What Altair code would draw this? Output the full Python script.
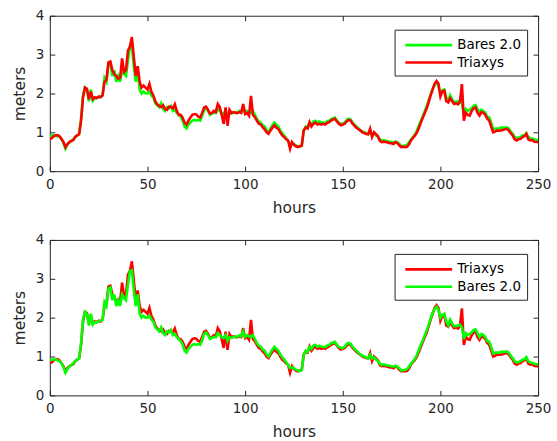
import altair as alt
import pandas as pd

hours = list(range(251))

triaxys = [
    0.83, 0.85, 0.90, 0.92, 0.93, 0.90, 0.83, 0.75, 0.62, 0.70,
    0.75, 0.78, 0.80, 0.88, 0.92, 0.95, 1.30, 1.90, 2.15, 2.12,
    1.85, 2.05, 1.85, 1.90, 1.88, 1.92, 1.90, 1.95, 2.30, 2.35,
    2.80, 2.82, 2.60, 2.50, 2.45, 2.38, 2.40, 2.90, 2.55, 2.60,
    3.10, 3.20, 3.45, 2.95, 2.45, 2.70, 2.30, 2.15, 2.20, 2.15,
    2.10, 2.25, 2.05, 1.95, 1.80, 1.72, 1.68, 1.65, 1.70, 1.60,
    1.58, 1.66, 1.65, 1.62, 1.72, 1.55, 1.45, 1.45, 1.38, 1.25,
    1.20, 1.30, 1.38, 1.45, 1.47, 1.46, 1.40, 1.38, 1.50, 1.64,
    1.66, 1.58, 1.48, 1.50, 1.55, 1.52, 1.73, 1.65, 1.45, 1.22,
    1.64, 1.17, 1.58, 1.50, 1.52, 1.50, 1.50, 1.52, 1.50, 1.73,
    1.47, 1.50, 1.43, 1.94, 1.45, 1.39, 1.30, 1.22, 1.20, 1.13,
    1.08, 1.00, 0.96, 1.05, 1.12, 1.18, 1.12, 1.09, 1.00, 0.92,
    0.88, 0.82, 0.79, 0.58, 0.75, 0.68, 0.64, 0.62, 0.64, 0.66,
    1.05, 1.12, 1.10, 1.26, 1.15, 1.22, 1.25, 1.20, 1.22, 1.20,
    1.22, 1.20, 1.24, 1.26, 1.30, 1.33, 1.35, 1.28, 1.22, 1.18,
    1.20, 1.22, 1.28, 1.32, 1.30, 1.22, 1.17, 1.12, 1.08, 1.05,
    1.00, 0.98, 0.96, 0.95, 1.09, 0.88, 1.00, 0.95, 0.90, 0.78,
    0.75, 0.76, 0.75, 0.74, 0.72, 0.72, 0.70, 0.75, 0.72, 0.66,
    0.62, 0.63, 0.62, 0.63, 0.70, 0.80, 0.86, 0.92, 1.00, 1.12,
    1.25, 1.38, 1.50, 1.62, 1.78, 1.95, 2.10, 2.25, 2.32, 2.25,
    1.92, 2.05, 2.07, 1.80, 1.77, 1.88, 1.80, 1.73, 1.75, 1.72,
    1.78, 2.24, 1.30, 1.50, 1.45, 1.43, 1.55, 1.62, 1.64, 1.50,
    1.43, 1.52, 1.50, 1.45, 1.35, 1.30, 1.15, 1.00, 1.02, 1.05,
    1.04, 1.05, 1.06, 1.08, 1.09, 1.05, 0.98, 0.92, 0.82, 0.79,
    0.82, 0.83, 0.88, 0.90, 0.96, 0.82, 0.79, 0.80, 0.76, 0.75,
    0.75,
]

bares = [
    0.90, 0.92, 0.93, 0.92, 0.90, 0.88, 0.82, 0.72, 0.58, 0.68,
    0.74, 0.78, 0.82, 0.88, 0.92, 0.95, 1.35, 1.95, 2.15, 2.10,
    1.80, 2.10, 1.82, 1.88, 1.88, 1.90, 1.92, 1.95, 2.40, 2.30,
    2.75, 2.78, 2.45, 2.60, 2.30, 2.45, 2.30, 2.60, 2.50, 2.45,
    2.85, 3.20, 3.22, 2.70, 2.30, 2.60, 2.10, 2.00, 2.05, 2.00,
    2.00, 2.05, 1.95, 1.90, 1.75, 1.70, 1.65, 1.75, 1.60, 1.55,
    1.65, 1.62, 1.68, 1.55, 1.58, 1.50, 1.45, 1.40, 1.30, 1.15,
    1.10, 1.20, 1.25, 1.30, 1.32, 1.30, 1.32, 1.30, 1.42, 1.58,
    1.62, 1.55, 1.45, 1.48, 1.50, 1.50, 1.60, 1.55, 1.50, 1.48,
    1.55, 1.40, 1.50, 1.48, 1.50, 1.52, 1.50, 1.55, 1.52, 1.65,
    1.50, 1.55, 1.52, 1.50, 1.55, 1.45, 1.35, 1.28, 1.25, 1.18,
    1.15, 1.05, 1.00, 1.10, 1.18, 1.25, 1.20, 1.15, 1.05, 0.98,
    0.92, 0.85, 0.78, 0.70, 0.72, 0.70, 0.66, 0.64, 0.63, 0.65,
    1.05, 1.15, 1.12, 1.25, 1.20, 1.28, 1.30, 1.25, 1.28, 1.26,
    1.25, 1.24, 1.28, 1.30, 1.34, 1.36, 1.38, 1.30, 1.25, 1.22,
    1.22, 1.25, 1.32, 1.35, 1.33, 1.25, 1.20, 1.15, 1.10, 1.05,
    1.02, 1.00, 0.98, 0.95, 1.05, 0.95, 0.98, 0.92, 0.88, 0.82,
    0.78, 0.80, 0.78, 0.77, 0.76, 0.75, 0.74, 0.76, 0.74, 0.70,
    0.64, 0.65, 0.66, 0.68, 0.75, 0.82, 0.88, 0.95, 1.05, 1.18,
    1.30, 1.42, 1.55, 1.68, 1.82, 1.98, 2.12, 2.22, 2.28, 2.20,
    2.00, 2.08, 2.10, 1.90, 1.80, 1.95, 1.85, 1.78, 1.78, 1.80,
    1.82, 1.75, 1.45, 1.60, 1.55, 1.58, 1.62, 1.68, 1.70, 1.60,
    1.50, 1.58, 1.55, 1.50, 1.40, 1.38, 1.25, 1.08, 1.10, 1.10,
    1.10, 1.12, 1.12, 1.12, 1.13, 1.10, 1.02, 0.96, 0.88, 0.85,
    0.86, 0.88, 0.92, 0.93, 0.98, 0.88, 0.85, 0.84, 0.82, 0.80,
    0.80,
]

series_names = ["Bares 2.0", "Triaxys"]
x_ticks = [0, 50, 100, 150, 200, 250]
y_ticks = [0, 1, 2, 3, 4]

df = pd.DataFrame({
    "hours": hours + hours,
    "meters": bares + triaxys,
    "series": [series_names[0]] * len(hours) + [series_names[1]] * len(hours),
})

W, H = 490, 156
COLORS = {"Bares 2.0": "#00ff00", "Triaxys": "#ff0000"}
AX = "#262626"
FONT = "DejaVu Sans"
LW = 2.6

xs = alt.Scale(domain=[0, 250], nice=False)
ys = alt.Scale(domain=[0, 4], nice=False)


def axis_pair(kind):
    if kind == 0:
        xa = alt.Axis(orient="bottom", values=x_ticks, title="hours", ticks=False, domain=False,
                      grid=False, labelPadding=6, titlePadding=10, labelFontSize=13.5,
                      titleFontSize=15.5, labelFont=FONT, titleFont=FONT, labelColor=AX,
                      titleColor=AX, titleFontWeight="normal", labelFlush=False)
        ya = alt.Axis(orient="left", values=y_ticks, title="meters", ticks=False, domain=False,
                      grid=False, labelPadding=6, titlePadding=8, labelFontSize=13.5,
                      titleFontSize=15.5, labelFont=FONT, titleFont=FONT, labelColor=AX,
                      titleColor=AX, titleFontWeight="normal")
    elif kind == 1:
        xa = alt.Axis(orient="top", offset=-H, values=x_ticks, title=None, labels=False,
                      domain=False, grid=False, ticks=True, tickSize=5, tickColor=AX)
        ya = alt.Axis(orient="right", offset=-W, values=y_ticks, title=None, labels=False,
                      domain=False, grid=False, ticks=True, tickSize=5, tickColor=AX)
    else:
        xa = alt.Axis(orient="bottom", offset=-H, values=x_ticks, title=None, labels=False,
                      domain=False, grid=False, ticks=True, tickSize=5, tickColor=AX)
        ya = alt.Axis(orient="left", offset=-W, values=y_ticks, title=None, labels=False,
                      domain=False, grid=False, ticks=True, tickSize=5, tickColor=AX)
    return xa, ya


def panel(order):
    color = alt.Color(
        "series:N",
        scale=alt.Scale(domain=order, range=[COLORS[s] for s in order]),
        legend=alt.Legend(
            title=None, orient="none", legendX=346, legendY=14,
            symbolType="M-0.6,0H5.4", symbolSize=245, symbolStrokeWidth=LW,
            labelFontSize=13.5, labelFont=FONT, labelColor="#000000",
            strokeColor=AX, fillColor="white", padding=6, rowPadding=1.5,
            labelOffset=38,
        ),
    )
    layers = []
    for i, s in enumerate(order):
        xa, ya = axis_pair(i)
        layers.append(
            alt.Chart(df).transform_filter(alt.datum.series == s)
            .mark_line(strokeWidth=LW, clip=True)
            .encode(
                x=alt.X("hours:Q", scale=xs, axis=xa),
                y=alt.Y("meters:Q", scale=ys, axis=ya),
                color=color,
            )
        )
    xa, ya = axis_pair(2)
    layers.append(
        alt.Chart(df).transform_filter(alt.datum.series == order[-1])
        .mark_line(opacity=0)
        .encode(
            x=alt.X("hours:Q", scale=xs, axis=xa),
            y=alt.Y("meters:Q", scale=ys, axis=ya),
        )
    )
    return alt.layer(*layers).resolve_axis(x="independent", y="independent").properties(
        width=W, height=H
    )


top = panel(["Bares 2.0", "Triaxys"])
bottom = panel(["Triaxys", "Bares 2.0"])

chart = (
    alt.vconcat(top, bottom, spacing=15)
    .resolve_scale(color="independent")
    .resolve_legend(color="independent")
    .properties(padding={"left": 11, "top": 7, "right": 5, "bottom": 3}, background="white")
    .configure_view(stroke=AX, strokeWidth=1)
)

chart.save("out.html", embed_options={"renderer": "svg", "actions": False})
